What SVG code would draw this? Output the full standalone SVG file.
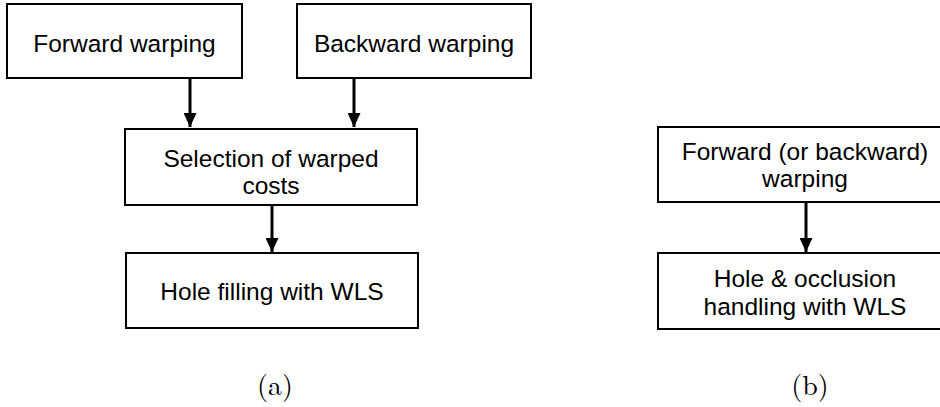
<svg xmlns="http://www.w3.org/2000/svg" width="940" height="407" viewBox="0 0 940 407">
  <style>
    .box { fill: #ffffff; stroke: #000000; stroke-width: 2; }
    .lbl { font-family: "Liberation Sans", Arial, sans-serif; font-size: 24.5px; fill: #000000; text-anchor: middle; }
    .cap { font-family: "Latin Modern Roman", "Liberation Serif", "DejaVu Serif", serif; font-size: 28px; fill: #000000; text-anchor: middle; }
    .wire { stroke: #000000; stroke-width: 3; fill: none; }
  </style>
  <defs>
    <marker id="head" viewBox="0 0 14 13" refX="14" refY="6.5" markerWidth="14" markerHeight="13" markerUnits="userSpaceOnUse" orient="auto">
      <path d="M0,0 L14,6.5 L0,13 Z" fill="#000000"/>
    </marker>
  </defs>
  <rect width="940" height="407" fill="#ffffff"/>

  <!-- (a) combined forward/backward pipeline -->
  <g id="forward">
    <rect class="box" x="7" y="4" width="235" height="74"/>
    <text class="lbl" x="124.5" y="52">Forward warping</text>
  </g>
  <g id="backward">
    <rect class="box" x="297" y="4" width="234" height="74"/>
    <text class="lbl" x="414" y="52">Backward warping</text>
  </g>
  <g id="selection">
    <rect class="box" x="125" y="129" width="292" height="76"/>
    <text class="lbl" x="271" y="167">Selection of warped</text>
    <text class="lbl" x="271" y="194">costs</text>
  </g>
  <g id="holefill">
    <rect class="box" x="126" y="253" width="292" height="75"/>
    <text class="lbl" x="272" y="300">Hole filling with WLS</text>
  </g>

  <!-- (b) single-direction pipeline -->
  <g id="warp-single">
    <rect class="box" x="658" y="127" width="294" height="75"/>
    <text class="lbl" x="805" y="160">Forward (or backward)</text>
    <text class="lbl" x="805" y="187">warping</text>
  </g>
  <g id="hole-occlusion">
    <rect class="box" x="658" y="253" width="294" height="76"/>
    <text class="lbl" x="805" y="287">Hole &amp; occlusion</text>
    <text class="lbl" x="805" y="315">handling with WLS</text>
  </g>

  <g id="connectors">
    <line class="wire" x1="190" y1="78" x2="190" y2="127" marker-end="url(#head)"/>
    <line class="wire" x1="354" y1="78" x2="354" y2="127" marker-end="url(#head)"/>
    <line class="wire" x1="272" y1="205" x2="272" y2="252" marker-end="url(#head)"/>
    <line class="wire" x1="806" y1="202" x2="806" y2="252" marker-end="url(#head)"/>
  </g>

  <g id="captions">
    <text class="cap" x="275" y="395">(a)</text>
    <text class="cap" x="810" y="395">(b)</text>
  </g>
</svg>
